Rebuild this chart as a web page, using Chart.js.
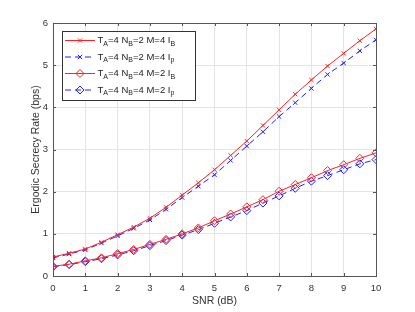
<!DOCTYPE html>
<html>
<head>
<meta charset="utf-8">
<script src="https://cdn.jsdelivr.net/npm/chart.js@4"></script>
<style>
  body { margin: 0; background: #fff; }
  #wrap { width: 415px; height: 312px; }
</style>
</head>
<body>
<div id="wrap"><canvas id="myChart"></canvas></div>
<script>
// dados
const snr = [0, 0.5, 1, 1.5, 2, 2.5, 3, 3.5, 4, 4.5, 5, 5.5, 6, 6.5, 7, 7.5, 8, 8.5, 9, 9.5, 10];
const ibNb2 = [0.45, 0.54, 0.64, 0.80, 0.98, 1.16, 1.37, 1.63, 1.92, 2.21, 2.52, 2.86, 3.20, 3.57, 3.94, 4.31, 4.65, 4.98, 5.28, 5.58, 5.86];
const ipNb2 = [0.43, 0.52, 0.62, 0.78, 0.95, 1.13, 1.33, 1.58, 1.86, 2.13, 2.40, 2.74, 3.08, 3.42, 3.78, 4.11, 4.45, 4.78, 5.05, 5.34, 5.60];
const ibNb4 = [0.23, 0.28, 0.36, 0.43, 0.53, 0.63, 0.75, 0.87, 1.00, 1.14, 1.31, 1.47, 1.64, 1.81, 2.01, 2.17, 2.33, 2.50, 2.64, 2.79, 2.92];
const ipNb4 = [0.22, 0.27, 0.34, 0.41, 0.50, 0.60, 0.72, 0.84, 0.97, 1.10, 1.25, 1.40, 1.55, 1.73, 1.90, 2.08, 2.25, 2.38, 2.52, 2.66, 2.76];
const legendas = ["T_A=4 N_B=2 M=4 I_B", "T_A=4 N_B=2 M=4 I_p", "T_A=4 N_B=4 M=2 I_B", "T_A=4 N_B=4 M=2 I_p"];
const xTicks = [0, 1, 2, 3, 4, 5, 6, 7, 8, 9, 10];
const yTicks = [0, 1, 2, 3, 4, 5, 6];
const tituloY = 'Ergodic Secrecy Rate (bps)';

const fonte = "'Liberation Sans', Arial, sans-serif";
const ctx = document.querySelector("#myChart");

function serie(label, valores, cor, marcador, raio, tracejado) {
    return {
        label: label,
        data: snr.map((x, i) => ({ x: x, y: valores[i] })),
        borderColor: cor,
        backgroundColor: cor,
        borderWidth: 1,
        borderDash: tracejado ? [6, 4] : [],
        pointStyle: marcador,
        pointRadius: raio,
        pointBorderColor: cor,
        pointBackgroundColor: 'rgba(0,0,0,0)',
        pointBorderWidth: 1,
        tension: 0
    };
}

// moldura estilo MATLAB + ticks para dentro + título do eixo y
const moldura = {
    id: 'moldura',
    afterDraw(chart) {
        const c = chart.ctx, a = chart.chartArea;
        const sx = chart.scales.x, sy = chart.scales.y;
        c.save();
        c.strokeStyle = '#555';
        c.lineWidth = 1;
        c.beginPath();
        xTicks.forEach(t => {
            const px = Math.round(sx.getPixelForValue(t)) + 0.5;
            c.moveTo(px, a.bottom); c.lineTo(px, a.bottom - 3);
            c.moveTo(px, a.top); c.lineTo(px, a.top + 3);
        });
        yTicks.forEach(t => {
            const py = Math.round(sy.getPixelForValue(t)) + 0.5;
            c.moveTo(a.left, py); c.lineTo(a.left + 3, py);
            c.moveTo(a.right, py); c.lineTo(a.right - 3, py);
        });
        c.stroke();
        c.strokeRect(Math.round(a.left) + 0.5, Math.round(a.top) + 0.5,
            Math.round(a.right - a.left), Math.round(a.bottom - a.top));
        // título y
        c.translate(36, (a.top + a.bottom) / 2);
        c.rotate(-Math.PI / 2);
        c.font = '10.5px ' + fonte;
        c.fillStyle = '#333';
        c.textAlign = 'center';
        c.textBaseline = 'middle';
        c.fillText(tituloY, 0, 0);
        c.restore();
    }
};

// legenda dentro do gráfico, com subscritos
const legendaBox = {
    id: 'legendaBox',
    afterDraw(chart) {
        const c = chart.ctx;
        const x0 = 62, y0 = 31, w = 133, h = 69;
        c.save();
        c.fillStyle = '#fff';
        c.fillRect(x0, y0, w, h);
        c.strokeStyle = '#333';
        c.lineWidth = 1;
        c.strokeRect(x0 + 0.5, y0 + 0.5, w, h);
        chart.data.datasets.forEach((ds, i) => {
            const y = y0 + 9.5 + i * 16.5;
            c.strokeStyle = ds.borderColor;
            c.lineWidth = 1;
            c.setLineDash(ds.borderDash);
            c.beginPath();
            c.moveTo(65, y); c.lineTo(95, y);
            c.stroke();
            c.setLineDash([]);
            c.fillStyle = 'rgba(0,0,0,0)';
            c.strokeStyle = ds.borderColor;
            Chart.helpers.drawPoint(c, {
                pointStyle: ds.pointStyle, radius: ds.pointRadius, rotation: 0, borderWidth: 1
            }, 80, y);
            // texto
            let tx = 97.5;
            const partes = legendas[i].split(/(_.)/).filter(s => s.length);
            c.fillStyle = '#222';
            c.textBaseline = 'middle';
            partes.forEach(p => {
                if (p[0] === '_') {
                    c.font = '7px ' + fonte;
                    c.fillText(p[1], tx, y + 3.5);
                    tx += c.measureText(p[1]).width;
                } else {
                    c.font = '9.5px ' + fonte;
                    c.fillText(p, tx, y);
                    tx += c.measureText(p).width;
                }
            });
        });
        c.restore();
    }
};

new Chart(ctx, {
    type: 'line',
    data: {
        datasets: [
            serie(legendas[0], ibNb2, '#ff2020', 'crossRot', 3, false),
            serie(legendas[1], ipNb2, '#2020ff', 'crossRot', 3, true),
            serie(legendas[2], ibNb4, '#ff2020', 'rectRot', 4, false),
            serie(legendas[3], ipNb4, '#2020ff', 'rectRot', 4, true)
        ]
    },
    options: {
        responsive: true,
        maintainAspectRatio: false,
        animation: false,
        layout: { padding: { left: 0, right: 39, top: 23, bottom: 0 } },
        plugins: { legend: { display: false }, tooltip: { enabled: false } },
        scales: {
            x: {
                type: 'linear',
                min: 0, max: 10,
                afterFit: s => { s.height = 36; },
                ticks: { stepSize: 1, color: '#333', padding: 7, font: { family: fonte, size: 9.5 } },
                grid: { color: '#e4e4e4', drawTicks: false },
                border: { display: false },
                title: { display: true, text: 'SNR (dB)', color: '#333', padding: { top: 0, bottom: 5 }, font: { family: fonte, size: 10.5 } }
            },
            y: {
                min: 0, max: 6,
                afterFit: s => { s.width = 53; },
                ticks: { stepSize: 1, color: '#333', padding: 5, font: { family: fonte, size: 9.5 } },
                grid: { color: '#e4e4e4', drawTicks: false },
                border: { display: false },
                title: { display: false }
            }
        }
    },
    plugins: [moldura, legendaBox]
});
</script>
</body>
</html>
